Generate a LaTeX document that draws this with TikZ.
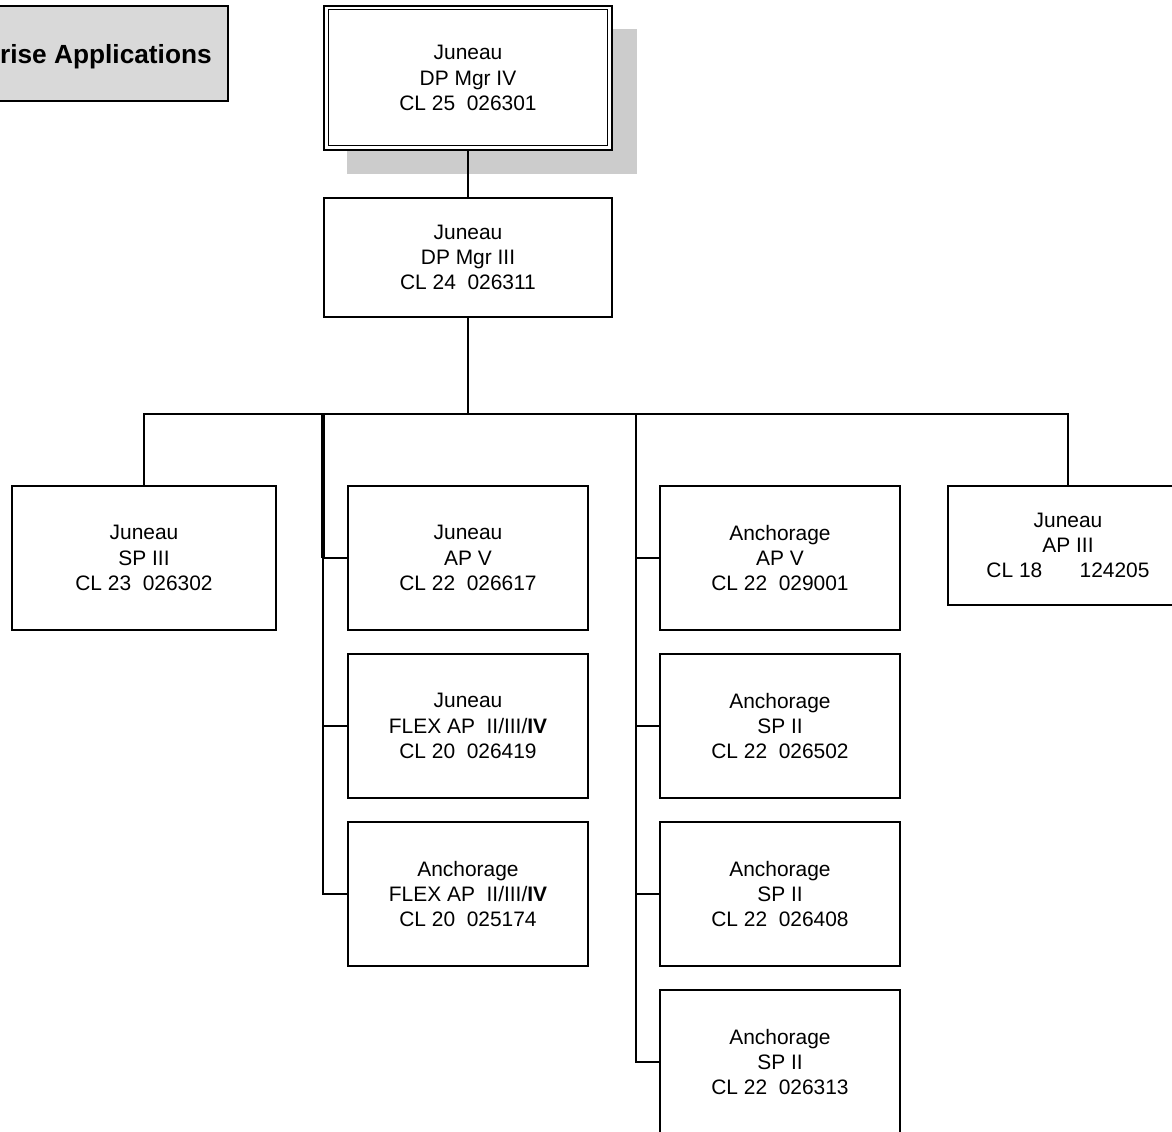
\documentclass[tikz,border=0pt]{standalone}
\usepackage{fontspec}
\setmainfont{Liberation Sans}
\definecolor{shadowgray}{HTML}{CCCCCC}
\definecolor{titlegray}{HTML}{D9D9D9}
\newcommand{\px}{0.75pt}
\tikzset{
  conn/.style={line width=1.4pt},
  orgbox/.style={draw, line width=1.4pt, fill=white, inner sep=0pt, align=center,
    minimum width=240*\px, minimum height=144*\px,
    font=\fontsize{15.7}{19}\selectfont},
  boxtext/.style={align=center, inner sep=0pt, font=\fontsize{15.7}{19}\selectfont}
}
\begin{document}
\begin{tikzpicture}[x=0.75pt, y=-0.75pt]
\path[use as bounding box, fill=white] (0,0) rectangle (1172,1132);
\begin{scope}
\clip (0,0) rectangle (1172,1132);
% title box
\node[draw, line width=1.4pt, fill=titlegray, minimum width=260*\px, minimum height=95*\px, inner sep=0pt] (title) at (98,53.5) {};
\node[anchor=base east, inner sep=0pt, font=\fontsize{19.7}{23}\selectfont\bfseries] (titletext) at (212,63) {rise Applications};
% shadow of top box
\path[fill=shadowgray] (347,29) rectangle (637,174);
% top box
\node[orgbox, minimum width=288*\px, minimum height=144*\px, line width=1.1pt] (top) at (468,78) {};
\draw[line width=1.1pt] ([shift={(5,4)}]top.north west) rectangle ([shift={(-5,-5)}]top.south east);
\node[boxtext] (toptext) at (top.center) {Juneau\\DP Mgr IV\\CL 25\ \ 026301};
% second box
\node[orgbox, minimum width=288*\px, minimum height=119*\px] (mgr3) at (468,257.5) {Juneau\\DP Mgr III\\CL 24\ \ 026311};
% level boxes
\node[orgbox, minimum width=264*\px] (sp3) at (144,558) {Juneau\\SP III\\CL 23\ \ 026302};
\node[orgbox] (apv) at (468,558) {Juneau\\AP V\\CL 22\ \ 026617};
\node[orgbox] (flexj) at (468,726) {Juneau\\FLEX AP\ \ II/III/\textbf{IV}\\CL 20\ \ 026419};
\node[orgbox] (flexa) at (468,894) {Anchorage\\FLEX AP\ \ II/III/\textbf{IV}\\CL 20\ \ 025174};
\node[orgbox] (anc1) at (780,558) {Anchorage\\AP V\\CL 22\ \ 029001};
\node[orgbox] (anc2) at (780,726) {Anchorage\\SP II\\CL 22\ \ 026502};
\node[orgbox] (anc3) at (780,894) {Anchorage\\SP II\\CL 22\ \ 026408};
\node[orgbox] (anc4) at (780,1062) {Anchorage\\SP II\\CL 22\ \ 026313};
\node[orgbox, minimum height=119*\px] (ap3) at (1068,545.5) {Juneau\\AP III\\CL 18\hspace{28pt}124205};
% connectors
\coordinate (busy) at (0,414);
\coordinate (lt) at (323,414);
\coordinate (rt) at (636,414);
\draw[conn] (top.south) -- (mgr3.north);
\draw[conn] (mgr3.south) -- (mgr3.south |- busy);
\draw[conn] (sp3.north) -- (sp3.north |- busy) -- (ap3.north |- busy) -- (ap3.north);
\draw[line width=2.4pt] (lt) -- (lt |- apv.west);
\draw[conn] (lt) |- (flexa.west);
\draw[conn] (lt |- apv.west) -- (apv.west);
\draw[conn] (lt |- flexj.west) -- (flexj.west);
\draw[conn] (rt) |- (anc4.west);
\draw[conn] (rt |- anc1.west) -- (anc1.west);
\draw[conn] (rt |- anc2.west) -- (anc2.west);
\draw[conn] (rt |- anc3.west) -- (anc3.west);
\end{scope}
\end{tikzpicture}
\end{document}
